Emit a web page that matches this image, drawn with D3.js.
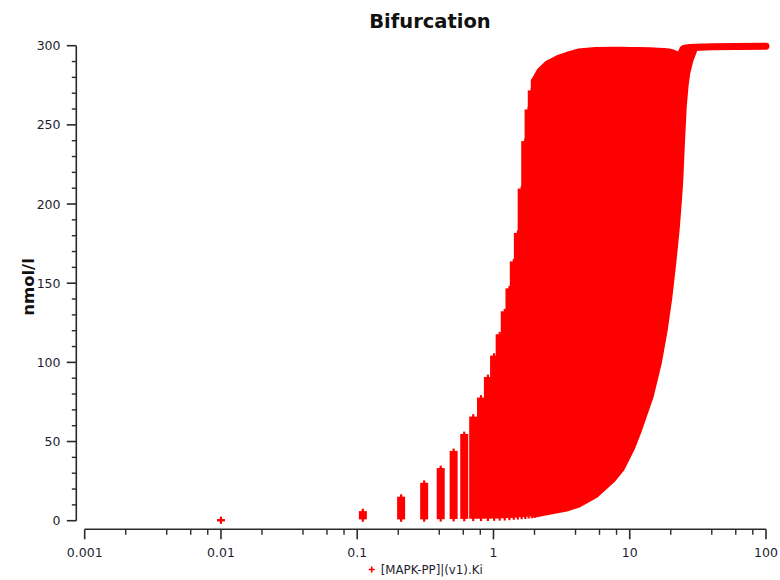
<!DOCTYPE html>
<html>

<head>
    <meta charset="utf-8">
    <script src="https://d3js.org/d3.v7.min.js"></script>
    <style>
        body { margin: 0; background: #fff; }
        text { font-family: "DejaVu Sans", sans-serif; fill: #1e1e30; }
    </style>
</head>

<body>
    <script>
        // separate columns of the bifurcation (Ki, min and max of [MAPK-PP])
        var colKi = [0.01, 0.11, 0.21, 0.31, 0.41, 0.51, 0.61, 0.71, 0.81, 0.91, 1.01,
            1.11, 1.21, 1.31, 1.41, 1.51, 1.61, 1.71, 1.81, 1.91, 2.01];
        var colMax = [0.3, 5.3, 14.4, 23.2, 32.5, 43.3, 54, 65, 77, 90, 103.5,
            117, 131.5, 146, 163, 181, 209, 239, 259, 271, 278];
        var colMin = [0.3, 1.6, 1.6, 1.6, 1.7, 1.8, 1.9, 2, 2, 2.1, 2.2,
            2.3, 2.4, 2.6, 2.8, 3, 3.2, 3.4, 3.6, 3.9, 4.2];

        // dense part of the band, envelope
        var bandKi = [2.01, 2.2, 2.5, 3, 3.5, 4.2, 5.6, 7.4, 8.7, 10.3, 11.6, 14.1, 16.2,
            17.9, 19.4, 20.7, 21.9, 22.8, 23.3, 24, 24.7, 25.5, 26.2, 27.7, 30, 40, 60, 99.91];
        var bandMax = [278, 284, 288.5, 292, 294, 296, 297, 297.2, 297.2, 297, 297, 296.8, 296.5,
            296.3, 296, 295.5, 294.5, 293, 291.5, 296, 298.2, 298.5, 298.6, 298.8, 299, 299.3, 299.5, 299.6];
        var bandMin = [4.2, 4.8, 5.7, 7, 8.2, 10.5, 16.4, 25.9, 33.3, 45.9, 57.3, 78.3, 99.6,
            120.4, 141.5, 162.8, 183.6, 203, 215, 240, 261.5, 275, 282.8, 291, 298.8, 299.3, 299.5, 299.6];

        var xMajor = [0.001, 0.01, 0.1, 1, 10, 100];
        var yMajor = [0, 50, 100, 150, 200, 250, 300];

        var width = 780, height = 580;

        var svg = d3.select("body").append("svg")
            .attr("width", width)
            .attr("height", height);

        var x = d3.scaleLog().domain([0.001, 100]).range([84.7, 766]);
        var y = d3.scaleLinear().domain([0, 300]).range([520.7, 45.7]);

        // axes
        var xMinor = [];
        xMajor.slice(0, -1).forEach(function (d) {
            [2, 4, 6, 8].forEach(function (m) { xMinor.push(d * m); });
        });
        var yMinor = d3.range(0, 301, 10).filter(function (d) { return d % 50 != 0; });

        var axisColor = "#2a2a2a";
        var xAxisY = 529.3, yAxisX = 76.3;

        var gx = svg.append("g");
        gx.append("line").attr("x1", x(0.001)).attr("x2", x(100))
            .attr("y1", xAxisY).attr("y2", xAxisY)
            .attr("stroke", axisColor).attr("stroke-width", 1.6);
        gx.selectAll(".xmaj").data(xMajor).join("line")
            .attr("x1", x).attr("x2", x)
            .attr("y1", xAxisY).attr("y2", xAxisY + 10)
            .attr("stroke", axisColor).attr("stroke-width", 1.6);
        gx.selectAll(".xmin").data(xMinor).join("line")
            .attr("x1", x).attr("x2", x)
            .attr("y1", xAxisY).attr("y2", xAxisY + 5.5)
            .attr("stroke", axisColor).attr("stroke-width", 1.4);
        gx.selectAll("text").data(xMajor).join("text")
            .attr("x", x).attr("y", 556.7)
            .attr("text-anchor", "middle")
            .style("font-size", "12.5px")
            .text(d3.format("~g"));

        var gy = svg.append("g");
        gy.append("line").attr("x1", yAxisX).attr("x2", yAxisX)
            .attr("y1", y(0)).attr("y2", y(300))
            .attr("stroke", axisColor).attr("stroke-width", 1.6);
        gy.selectAll(".ymaj").data(yMajor).join("line")
            .attr("x1", yAxisX - 9.5).attr("x2", yAxisX)
            .attr("y1", y).attr("y2", y)
            .attr("stroke", axisColor).attr("stroke-width", 1.6);
        gy.selectAll(".ymin").data(yMinor).join("line")
            .attr("x1", yAxisX - 4.5).attr("x2", yAxisX)
            .attr("y1", y).attr("y2", y)
            .attr("stroke", axisColor).attr("stroke-width", 1.4);
        gy.selectAll("text").data(yMajor).join("text")
            .attr("x", 60.5).attr("y", function (d) { return y(d) + 4.5; })
            .attr("text-anchor", "end")
            .style("font-size", "12.5px")
            .text(function (d) { return d; });

        // the dense band
        var area = d3.area()
            .x(function (d, i) { return x(bandKi[i]); })
            .y0(function (d, i) { return y(bandMin[i]); })
            .y1(function (d, i) { return y(bandMax[i]); });

        svg.append("path")
            .datum(bandKi)
            .attr("d", area)
            .attr("fill", "#ff0000")
            .attr("stroke", "#ff0000")
            .attr("stroke-width", 7)
            .attr("stroke-linejoin", "round");

        // separate columns of + markers
        var cols = svg.append("g").selectAll("g").data(colKi).join("g");
        cols.append("rect")
            .attr("x", function (d) { return x(d) - 4; })
            .attr("y", function (d, i) { return y(colMax[i]) - 1.2; })
            .attr("width", 8)
            .attr("height", function (d, i) { return y(colMin[i]) - y(colMax[i]) + 2.4; })
            .attr("fill", "#ff0000");
        cols.append("line")
            .attr("x1", x).attr("x2", x)
            .attr("y1", function (d, i) { return y(colMax[i]) - 3.6; })
            .attr("y2", function (d, i) { return y(colMin[i]) + 3.6; })
            .attr("stroke", "#ff0000")
            .attr("stroke-width", 2.2);

        // title and labels
        svg.append("text")
            .attr("x", 430).attr("y", 28)
            .attr("text-anchor", "middle")
            .style("font-size", "19.5px").style("font-weight", "bold")
            .style("fill", "#111")
            .text("Bifurcation");

        svg.append("text")
            .attr("transform", "translate(34,287) rotate(-90)")
            .attr("text-anchor", "middle")
            .style("font-size", "16.5px").style("font-weight", "bold")
            .style("fill", "#111")
            .text("nmol/l");

        // legend
        var lg = svg.append("g").attr("transform", "translate(371.7,569.5)");
        lg.append("path")
            .attr("d", "M-3,0H3M0,-3V3")
            .attr("stroke", "#ff0000").attr("stroke-width", 1.6);
        lg.append("text")
            .attr("x", 9).attr("y", 4.5)
            .style("font-size", "11.8px")
            .text("[MAPK-PP]|(v1).Ki");
    </script>
</body>

</html>
